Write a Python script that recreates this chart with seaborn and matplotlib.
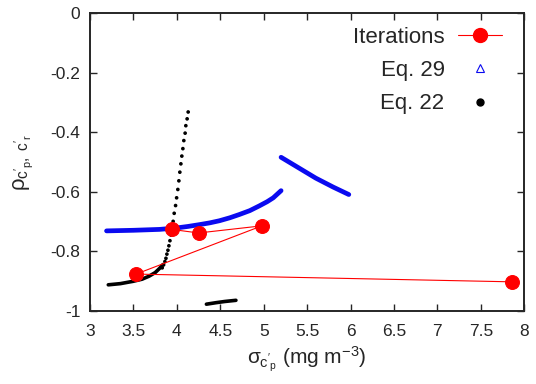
import numpy as np
import pandas as pd
import matplotlib
matplotlib.use("Agg")
import matplotlib.pyplot as plt
from matplotlib.lines import Line2D
from matplotlib.ticker import FuncFormatter, MultipleLocator
import seaborn as sns

# Iteration path (sigma, rho)
iter_x = [3.94, 4.25, 4.98, 3.53, 7.86]
iter_y = [-0.726, -0.738, -0.714, -0.876, -0.902]

# Eq. 29 branches (dense triangles, drawn as thick curves)
eq29a_x = [3.19, 3.50, 3.80, 4.00, 4.13, 4.26, 4.38, 4.49, 4.61, 4.72, 4.84,
           4.95, 5.04, 5.11, 5.20]
eq29a_y = [-0.731, -0.729, -0.726, -0.721, -0.716, -0.710, -0.704, -0.697,
           -0.687, -0.676, -0.663, -0.647, -0.633, -0.620, -0.596]
eq29b_x = [5.20, 5.40, 5.60, 5.80, 5.98]
eq29b_y = [-0.484, -0.519, -0.554, -0.584, -0.609]

# Eq. 22: dense lower branch, sparse dotted upper part, small lower piece
eq22_dense_x = [3.21, 3.35, 3.50, 3.60, 3.68, 3.75, 3.80, 3.84]
eq22_dense_y = [-0.912, -0.908, -0.900, -0.893, -0.883, -0.871, -0.857, -0.844]
eq22_dots_x = [4.130, 4.118, 4.103, 4.095, 4.080, 4.069, 4.057, 4.046, 4.034,
               4.023, 4.011, 3.997, 3.985, 3.969, 3.957, 3.946, 3.931, 3.920,
               3.908, 3.897, 3.885, 3.874, 3.862, 3.847, 3.831]
eq22_dots_y = [-0.332, -0.355, -0.378, -0.403, -0.428, -0.455, -0.480, -0.506,
               -0.534, -0.563, -0.592, -0.620, -0.646, -0.672, -0.699, -0.723,
               -0.745, -0.764, -0.781, -0.796, -0.809, -0.823, -0.834, -0.845,
               -0.855]
eq22_low_x = [4.34, 4.45, 4.55, 4.68]
eq22_low_y = [-0.977, -0.972, -0.968, -0.964]

sns.set_style("ticks")
plt.rcParams['font.family'] = ['Liberation Sans', 'DejaVu Sans']
plt.rcParams['mathtext.fontset'] = 'custom'
plt.rcParams['mathtext.rm'] = 'Liberation Sans'
plt.rcParams['mathtext.it'] = 'Liberation Sans'
plt.rcParams['axes.unicode_minus'] = False

fig = plt.figure(figsize=(5.36, 3.84), dpi=100)
ax = fig.add_axes([0.168, 0.19, 0.81, 0.776])

# Eq. 29
for bx, by in [(eq29a_x, eq29a_y), (eq29b_x, eq29b_y)]:
    sns.lineplot(x=bx, y=by, sort=False, estimator=None, color='#0a0af0',
                 linewidth=3.4, ax=ax)

# Eq. 22
sns.lineplot(x=eq22_dense_x, y=eq22_dense_y, sort=False, estimator=None,
             color='black', linewidth=2.6, ax=ax)
sns.lineplot(x=eq22_low_x, y=eq22_low_y, sort=False, estimator=None,
             color='black', linewidth=2.6, ax=ax)
sns.scatterplot(x=eq22_dots_x, y=eq22_dots_y, color='black', s=7,
                edgecolor='none', ax=ax)

# Iterations
sns.lineplot(x=iter_x, y=iter_y, sort=False, estimator=None, color='red',
             linewidth=0.8, marker='o', markersize=10,
             markeredgecolor='red', ax=ax)

ax.set_xlim(3, 8)
ax.set_ylim(-1, 0)
ax.xaxis.set_major_locator(MultipleLocator(0.5))
ax.yaxis.set_major_locator(MultipleLocator(0.2))
fmt = FuncFormatter(lambda v, p: '%g' % round(v, 3))
ax.xaxis.set_major_formatter(fmt)
ax.yaxis.set_major_formatter(fmt)
ax.tick_params(direction='in', length=5, width=1, top=True, right=True,
               labelsize=12.5)
ax.tick_params(axis='x', pad=9)
ax.tick_params(axis='y', pad=7)
for s in ax.spines.values():
    s.set_linewidth(1.4)

ax.set_xlabel(r"$\sigma_{\mathrm{c'_p}}$ (mg m$^{-3}$)", fontsize=15,
              labelpad=4)
ax.set_ylabel(r"$\rho_{\mathrm{c'_p,\ c'_r}}$", fontsize=16, labelpad=11)

handles = [
    Line2D([], [], color='red', linewidth=0.8, marker='o', markersize=10),
    Line2D([], [], color='#0a0af0', linestyle='none', marker='^',
           markerfacecolor='none', markersize=5.5, markeredgewidth=0.8),
    Line2D([], [], color='black', linestyle='none', marker='o', markersize=5),
]
ax.legend(handles, ['Iterations', 'Eq. 29', 'Eq. 22'], loc='upper right',
          bbox_to_anchor=(0.970, 0.983), frameon=False, markerfirst=False,
          fontsize=16, handlelength=2.0, labelspacing=0.55, borderaxespad=0.0,
          handletextpad=0.6)

fig.savefig('out.png', dpi=100)
